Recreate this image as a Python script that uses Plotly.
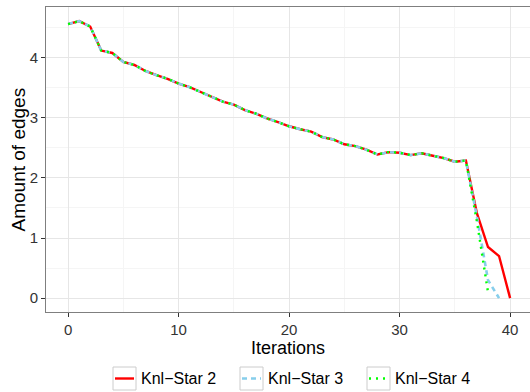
import plotly.graph_objects as go

# Amount of edges per iteration for three Knl-Star runs
iterations = list(range(41))
shared = [4.56, 4.61, 4.52, 4.12, 4.08, 3.93, 3.88, 3.78, 3.71, 3.65,
          3.57, 3.51, 3.43, 3.35, 3.27, 3.22, 3.13, 3.07, 2.99, 2.93,
          2.86, 2.81, 2.77, 2.68, 2.64, 2.56, 2.53, 2.47, 2.39, 2.43,
          2.42, 2.38, 2.41, 2.37, 2.33, 2.27, 2.29]
star2 = shared + [1.41, 0.85, 0.70, 0.0]
star3 = shared + [1.35, 0.30, 0.0]
star4 = shared + [1.27, 0.10]

names = ["Knl\u2212Star 2", "Knl\u2212Star 3", "Knl\u2212Star 4"]
values = [star2, star3, star4]
colors = ["#FF0000", "#87CEEB", "#00FF00"]
dashes = ["solid", "5px,4px", "2px,5px"]
widths = [2.4, 2.6, 2.4]

W, H = 530, 392
ML, MR, MT, MB = 46, 0, 7, 80
plot_w, plot_h = W - ML - MR, H - MT - MB

fig = go.Figure()
for name, ys, color, dash, width in zip(names, values, colors, dashes, widths):
    fig.add_trace(go.Scatter(
        x=iterations[:len(ys)], y=ys, mode="lines", name=name,
        line=dict(color=color, dash=dash, width=width),
    ))

font = "Liberation Sans, Arial, sans-serif"
axis_common = dict(
    showgrid=True, gridcolor="#E6E6E6", gridwidth=1,
    zeroline=False, showline=True, mirror=True,
    linecolor="#7F7F7F", linewidth=1,
    ticks="outside", ticklen=4, tickcolor="#333333", tickwidth=1,
    tickfont=dict(family=font, size=15, color="#333333"),
    automargin=False,
)

def px_x(p):
    return (p - ML) / plot_w

def px_y(p):
    return (H - MB - p) / plot_h

# Axis titles placed as paper annotations
annotations = [
    dict(text="Iterations", xref="paper", yref="paper",
         x=0.5, y=px_y(336), xanchor="center", yanchor="top",
         showarrow=False, font=dict(family=font, size=18, color="#000000")),
    dict(text="Amount of edges", xref="paper", yref="paper",
         x=px_x(18), y=0.5, xanchor="center", yanchor="middle", textangle=-90,
         showarrow=False, font=dict(family=font, size=19, color="#000000")),
]

# Legend drawn beneath the panel: grey-bordered keys with a line sample each
key_left = [113, 240, 367]
key_size = 23
key_top = 367
shapes = []
for left, name, color, dash, width in zip(key_left, names, colors, dashes, widths):
    shapes.append(dict(
        type="rect", xref="paper", yref="paper",
        x0=px_x(left), x1=px_x(left + key_size),
        y0=px_y(key_top + key_size), y1=px_y(key_top),
        line=dict(color="#CCCCCC", width=1), fillcolor="white", layer="above",
    ))
    shapes.append(dict(
        type="line", xref="paper", yref="paper",
        x0=px_x(left + 2), x1=px_x(left + key_size - 2),
        y0=px_y(key_top + key_size / 2), y1=px_y(key_top + key_size / 2),
        line=dict(color=color, dash=dash, width=width), layer="above",
    ))
    annotations.append(dict(
        text=name, xref="paper", yref="paper",
        x=px_x(left + key_size + 3), y=px_y(key_top + key_size / 2),
        xanchor="left", yanchor="middle", showarrow=False,
        font=dict(family=font, size=16, color="#000000"),
    ))

fig.update_layout(
    width=W, height=H,
    margin=dict(l=ML, r=MR, t=MT, b=MB, autoexpand=False),
    paper_bgcolor="white", plot_bgcolor="white",
    font=dict(family=font, color="#000000"),
    xaxis=dict(
        range=[-2, 41.8], tickvals=[0, 10, 20, 30, 40],
        minor=dict(dtick=5, tick0=0, showgrid=True, gridcolor="#F5F5F5", ticks=""),
        **axis_common,
    ),
    yaxis=dict(
        range=[-0.231, 4.845], tickvals=[0, 1, 2, 3, 4],
        minor=dict(dtick=0.5, tick0=0, showgrid=True, gridcolor="#F5F5F5", ticks=""),
        **axis_common,
    ),
    shapes=shapes,
    annotations=annotations,
    showlegend=False,
)

fig.write_html("out.html")
